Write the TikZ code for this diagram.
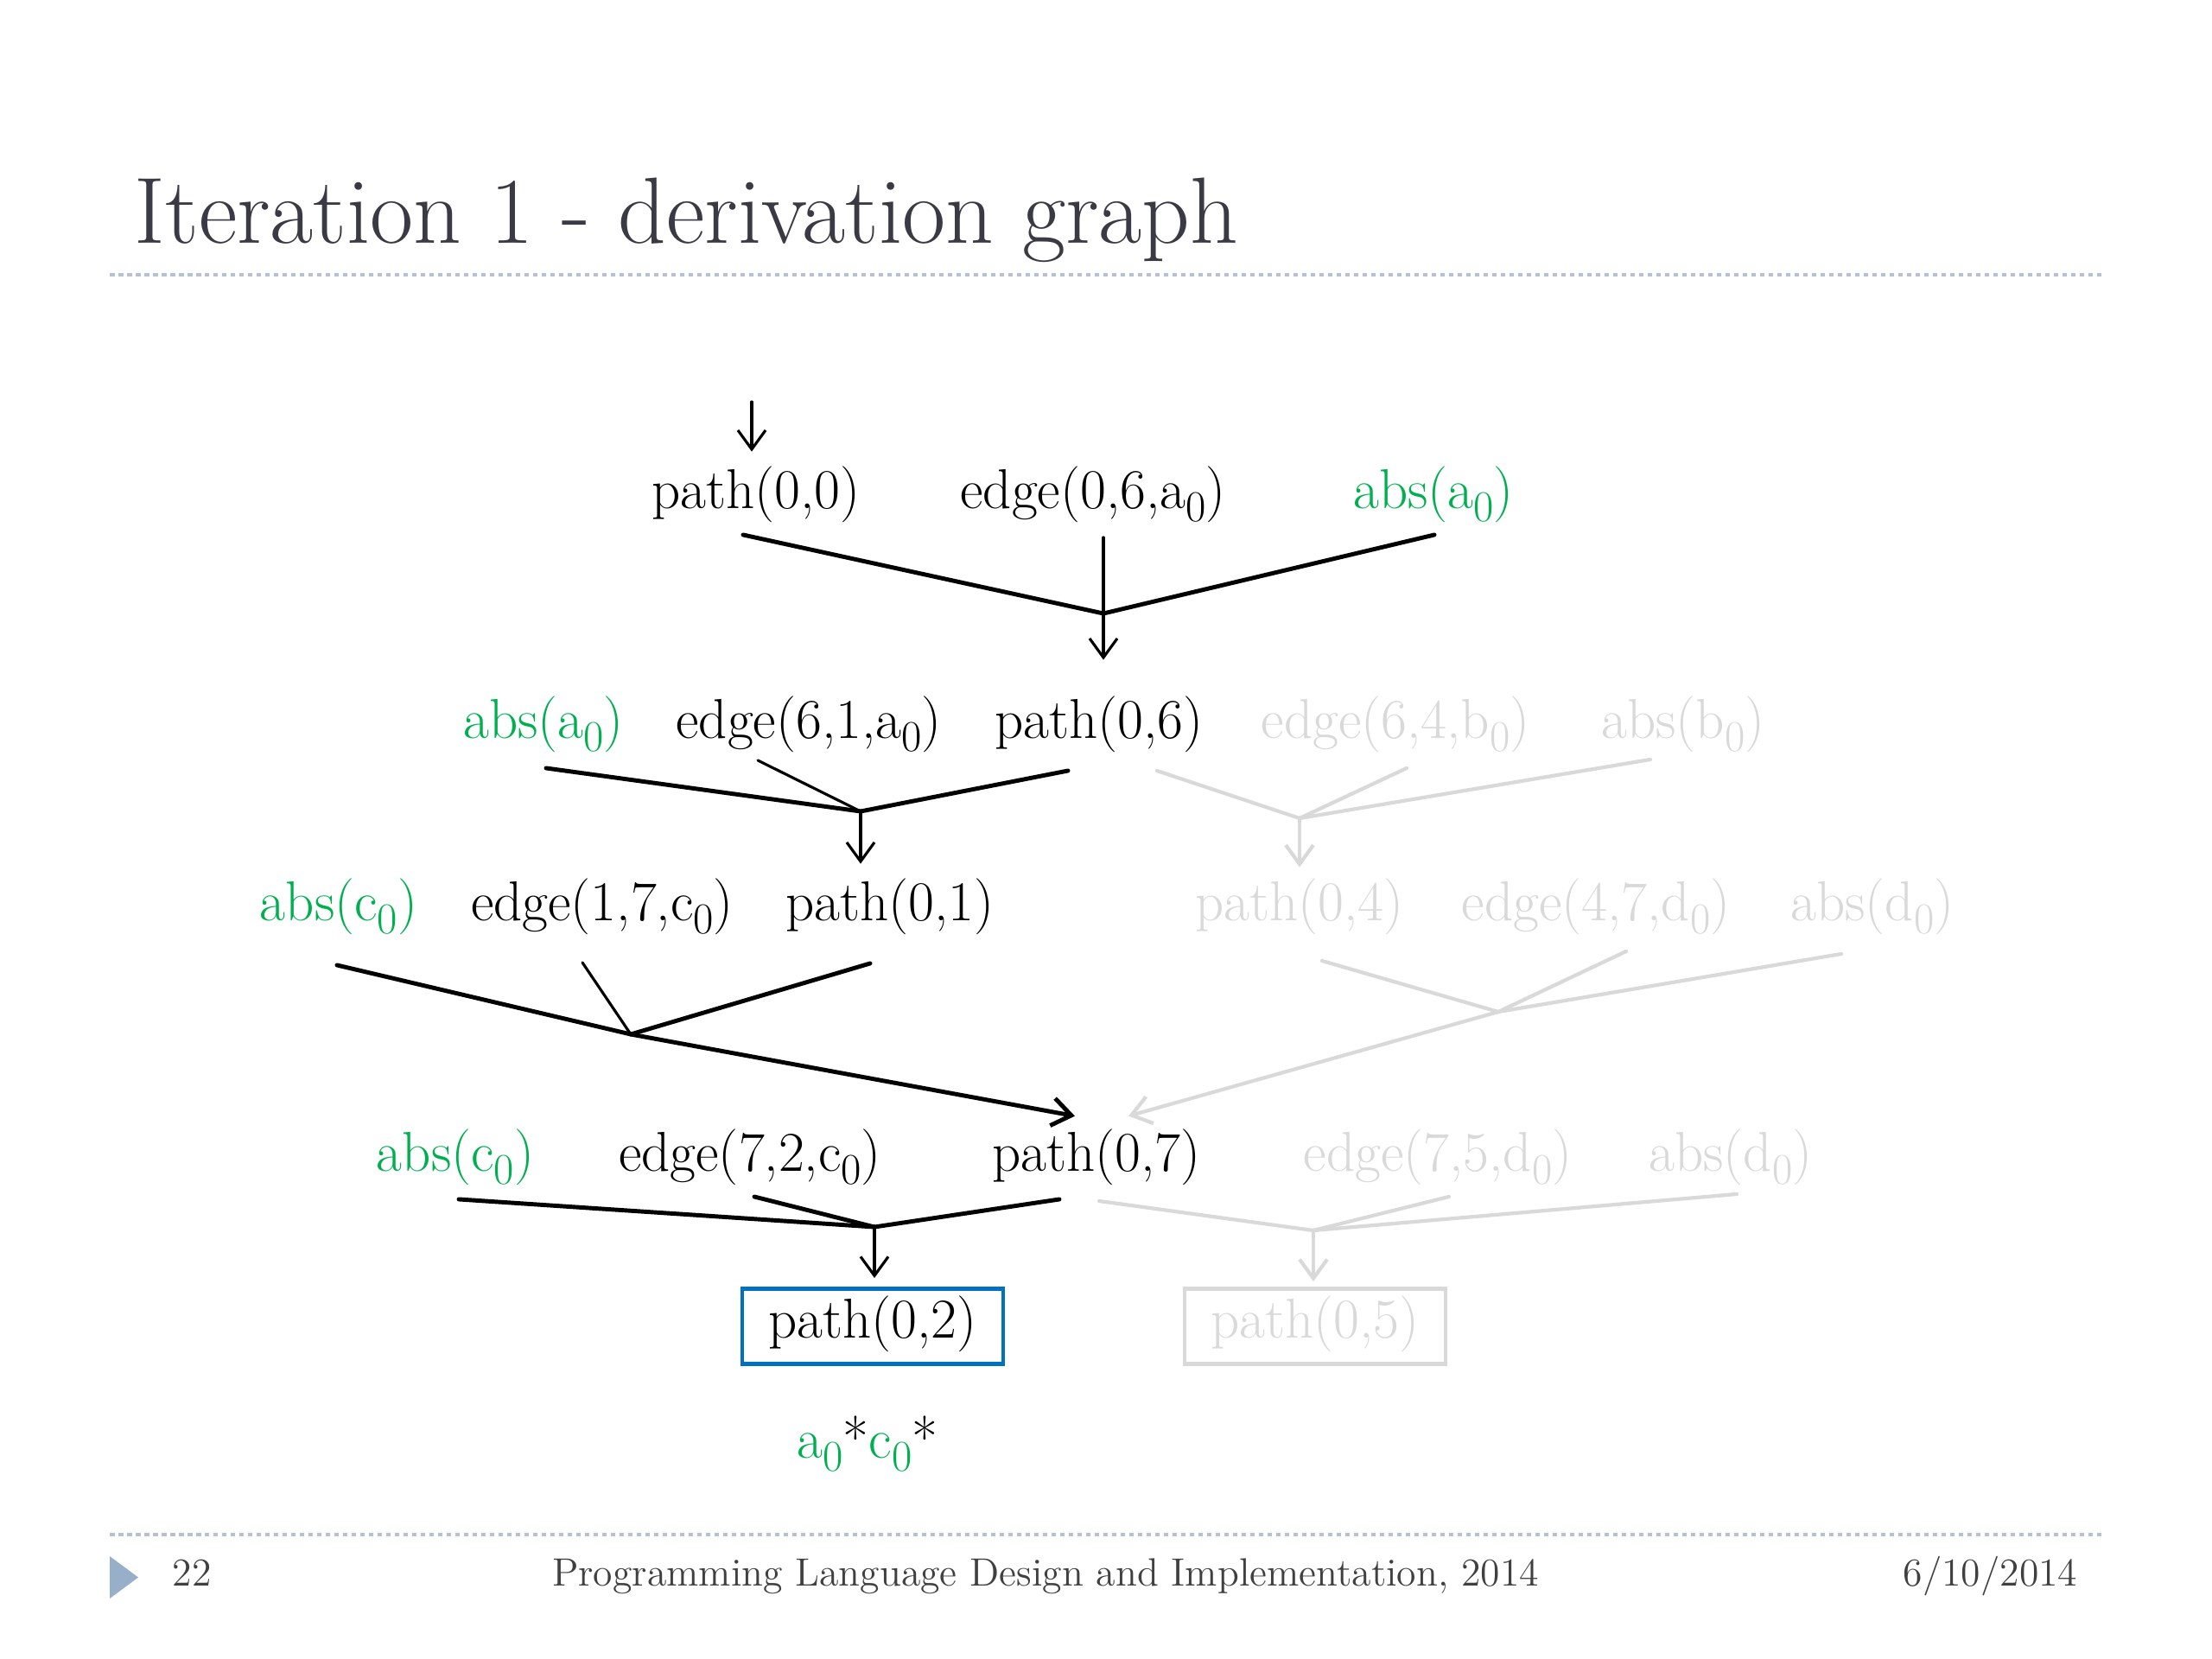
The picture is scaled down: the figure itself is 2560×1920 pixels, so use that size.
\documentclass[tikz,border=0pt]{standalone}
\usetikzlibrary{arrows.meta,calc}
\definecolor{grn}{HTML}{00B050}
\definecolor{fadec}{HTML}{D9D9D9}
\definecolor{boxblue}{HTML}{0070C0}
\definecolor{titlec}{HTML}{3A3A44}
\definecolor{rulec}{HTML}{B4C2D4}
\definecolor{tric}{HTML}{97AFC9}
\definecolor{footc}{HTML}{404040}
\newcommand\zsub[1]{\raisebox{-0.55ex}{\scalebox{0.78}{#1}}}
\tikzset{
  lbl/.style={anchor=base,inner sep=0pt,font=\fontsize{18.5pt}{21pt}\selectfont},
  green/.style={text=grn},
  fade/.style={text=fadec},
  thick line/.style={line width=1.4pt,line cap=round},
  thin line/.style={line width=0.9pt,line cap=round},
  fadeline/.style={draw=fadec,line width=1.2pt,line cap=round},
  arr/.style={-{Straight Barb[length=2.2mm,width=3.2mm]}},
  rulestyle/.style={draw=rulec,line width=0.9pt,dash pattern=on 0.55mm off 0.45mm},
  foot/.style={anchor=base,inner sep=0pt,text=footc,font=\fontsize{13pt}{15pt}\selectfont},
  resbox/.style={draw,line width=1.4pt,minimum width=30.2mm,minimum height=8.7mm,inner sep=0pt,
     text height=0.75em,text depth=0pt,font=\fontsize{18.5pt}{21pt}\selectfont}
}
\begin{document}
\begin{tikzpicture}[x=0.1mm,y=-0.1mm]
\useasboundingbox[fill=white] (0,0) rectangle (2560,1920);

% title and rules
\node[anchor=base west,inner sep=0pt,text=titlec,font=\fontsize{31pt}{35pt}\selectfont] (title) at (155,281) {Iteration 1 - derivation graph};
\draw[rulestyle] (127,318) -- (2433,318);
\draw[rulestyle] (127,1776) -- (2433,1776);

% footer
\fill[tric] (127,1801) -- (160,1825.5) -- (127,1850) -- cycle;
\node[foot,anchor=base west] (pgno) at (199,1835) {22};
\node[foot] (conf) at (1210,1835) {Programming Language Design and Implementation, 2014};
\node[foot,anchor=base east] (date) at (2405,1835) {6/10/2014};

% row 1
\node[lbl] (p00) at (875,588) {path(0,0)};
\node[lbl] (e06) at (1265,588) {edge(0,6,a\zsub{0})};
\node[lbl,green] (absA1) at (1659,588) {abs(a\zsub{0})};
% row 2
\node[lbl,green] (absA2) at (629,854) {abs(a\zsub{0})};
\node[lbl] (e61) at (936,854) {edge(6,1,a\zsub{0})};
\node[lbl] (p06) at (1272,854) {path(0,6)};
\node[lbl,fade] (e64) at (1615,854) {edge(6,4,b\zsub{0})};
\node[lbl,fade] (absB) at (1948,854) {abs(b\zsub{0})};
% row 3
\node[lbl,green] (absC3) at (392,1065) {abs(c\zsub{0})};
\node[lbl] (e17) at (697,1065) {edge(1,7,c\zsub{0})};
\node[lbl] (p01) at (1030,1065) {path(0,1)};
\node[lbl,fade] (p04) at (1504,1065) {path(0,4)};
\node[lbl,fade] (e47) at (1847,1065) {edge(4,7,d\zsub{0})};
\node[lbl,fade] (absD3) at (2167,1065) {abs(d\zsub{0})};
% row 4
\node[lbl,green] (absC4) at (527,1355) {abs(c\zsub{0})};
\node[lbl] (e72) at (868,1355) {edge(7,2,c\zsub{0})};
\node[lbl] (p07) at (1269,1355) {path(0,7)};
\node[lbl,fade] (e75) at (1664,1355) {edge(7,5,d\zsub{0})};
\node[lbl,fade] (absD4) at (2003,1355) {abs(d\zsub{0})};
% row 5
\node[resbox,draw=boxblue] (p02) at (1010,1535) {path(0,2)};
\node[resbox,draw=fadec,text=fadec] (p05) at (1522,1535) {path(0,5)};
\node[lbl] (res) at (1004,1687) {\textcolor{grn}{a\zsub{0}}*\textcolor{grn}{c\zsub{0}}*};

% junctions
\coordinate (top) at (870,465);
\coordinate (j1) at (1277,710);
\coordinate (j2) at (996,939);
\coordinate (j2g) at (1504,947);
\coordinate (j3) at (730,1197);
\coordinate (j3g) at (1734,1171);
\coordinate (j4) at (1012,1420);
\coordinate (j4g) at (1520,1424);

% faded connectors (drawn first)
\draw[fadeline] ($(p06.south)+(67,21)$) -- (j2g);
\draw[fadeline] ($(e64.south)+(13,18)$) -- (j2g);
\draw[fadeline] ($(absB.south)+(-38,8)$) -- (j2g);
\draw[fadeline,arr] (j2g) -- ($(p04.north)+(0,-12)$);
\draw[fadeline] ($(p04.south)+(26,30)$) -- (j3g);
\draw[fadeline] ($(e47.south)+(35,19)$) -- (j3g);
\draw[fadeline] ($(absD3.south)+(-36,22)$) -- (j3g);
\draw[fadeline,arr] (j3g) -- ($(p07.north)+(37,-14)$);
\draw[fadeline] ($(p07.south)+(3,18)$) -- (j4g);
\draw[fadeline] ($(e75.south)+(13,13)$) -- (j4g);
\draw[fadeline] ($(absD4.south)+(7,10)$) -- (j4g);
\draw[fadeline,arr] (j4g) -- ($(p05.north)+(-2,-6)$);

% black connectors
\draw[thin line,arr] (top) -- ($(p00.north)+(-5,-16)$);
\draw[thick line] ($(p00.south)+(-15,14)$) -- (j1);
\draw[thick line] ($(absA1.south)+(1,14)$) -- (j1);
\draw[thin line] ($(e06.south)+(12,17)$) -- (j1);
\draw[thin line,arr] (j1) -- ($(p06.north)+(5,-41)$);

\draw[thick line] ($(absA2.south)+(3,18)$) -- (j2);
\draw[thin line] ($(e61.south)+(-59,9)$) -- (j2);
\draw[thick line] ($(p06.south)+(-36,21)$) -- (j2);
\draw[thin line,arr] (j2) -- ($(p01.north)+(-34,-16)$);

\draw[thick line] ($(absC3.south)+(-2,35)$) -- (j3);
\draw[thin line] ($(e17.south)+(-23,32)$) -- (j3);
\draw[thick line] ($(p01.south)+(-23,33)$) -- (j3);
\draw[thick line,arr] (j3) -- ($(p07.north)+(-25,-14)$);

\draw[thick line] ($(absC4.south)+(4,16)$) -- (j4);
\draw[thick line] ($(e72.south)+(5,13)$) -- (j4);
\draw[thick line] ($(p07.south)+(-43,16)$) -- (j4);
\draw[thin line,arr] (j4) -- ($(p02.north)+(2,-10)$);
\end{tikzpicture}
\end{document}
